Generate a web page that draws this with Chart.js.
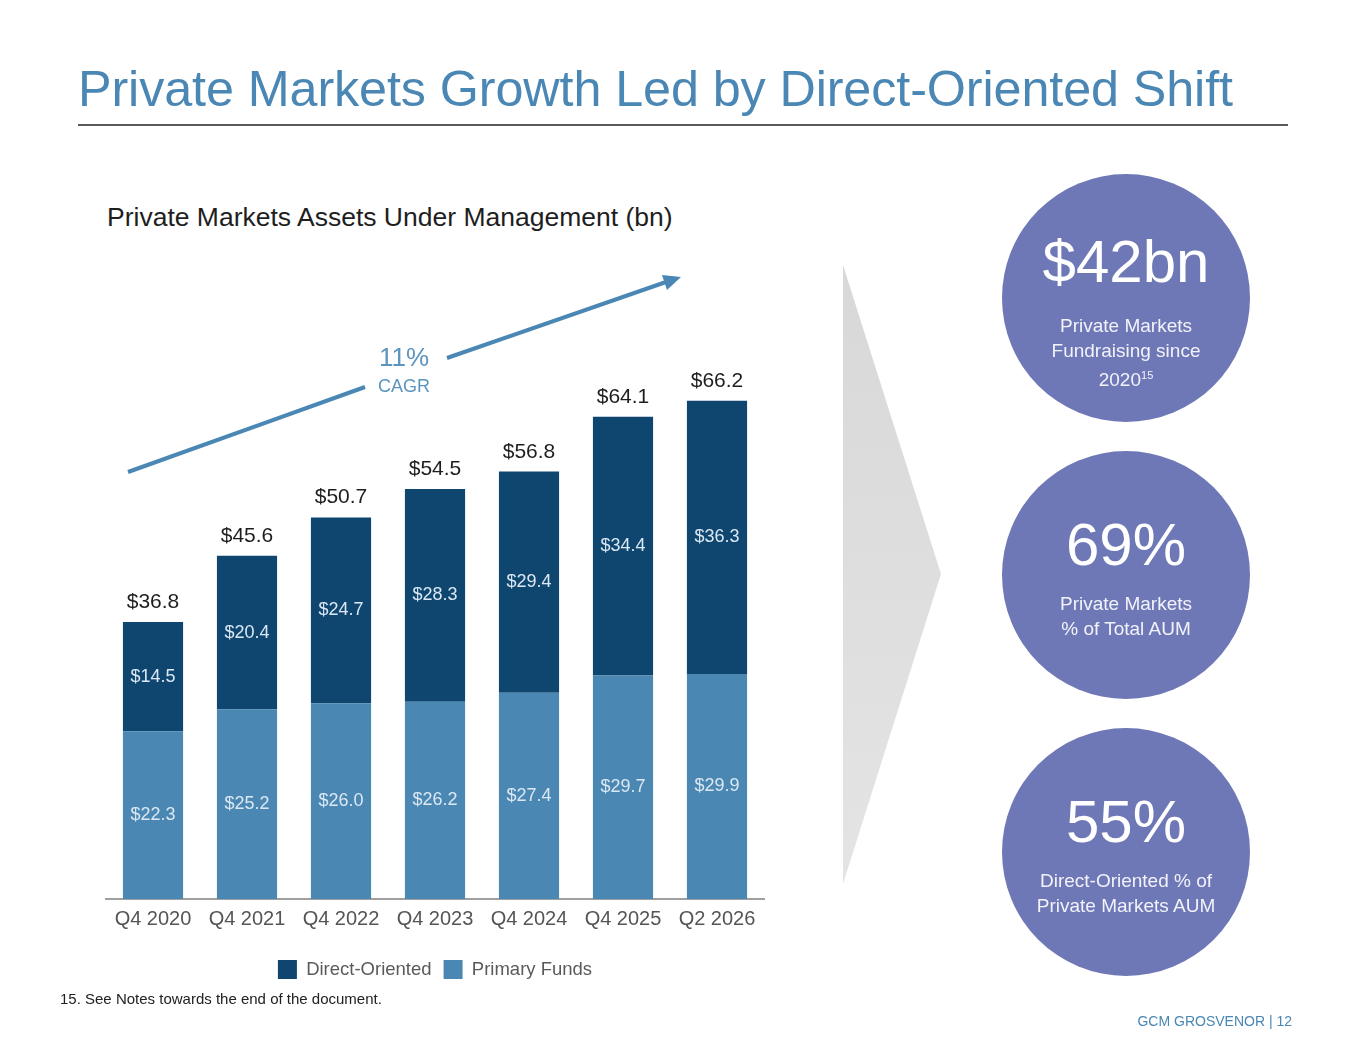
<!DOCTYPE html>
<html>
<head>
<meta charset="utf-8">
<script src="https://cdn.jsdelivr.net/npm/chart.js@4"></script>
<style>
  html, body { margin: 0; padding: 0; background: #fff; }
  body { width: 1365px; height: 1055px; position: relative; overflow: hidden;
         font-family: "Liberation Sans", Arial, Helvetica, sans-serif; }
  .abs { position: absolute; }
  #title { left: 78px; top: 59px; font-size: 50.3px; color: #4a87b4; white-space: nowrap; letter-spacing: -0.1px; }
  #rule { left: 78px; top: 124px; width: 1210px; height: 2px; background: #5a5a5a; }
  #subtitle { left: 107px; top: 202px; font-size: 26.5px; color: #1e1e1e; white-space: nowrap; }
  #chartBox { left: 100px; top: 280px; width: 680px; height: 720px; }
  #note { left: 60px; top: 990px; font-size: 15px; color: #222; white-space: nowrap; }
  #footer { right: 73px; top: 1013px; font-size: 14px; color: #4a87b4; white-space: nowrap; }
  .circle { width: 248px; height: 248px; border-radius: 50%; background: #6f78b6; left: 1002px; color: #fff; text-align: center; }
  .big { position: absolute; left: 0; right: 0; font-size: 60px; line-height: 60px; }
  .small { position: absolute; left: 0; right: 0; font-size: 19px; line-height: 25px; color: #f2f2fa; }
  sup { font-size: 11px; vertical-align: 7px; }
</style>
</head>
<body>
<div id="title" class="abs">Private Markets Growth Led by Direct-Oriented Shift</div>
<div id="rule" class="abs"></div>
<div id="subtitle" class="abs">Private Markets Assets Under Management (bn)</div>

<svg class="abs" style="left:0;top:0" width="1365" height="1055">
  <defs>
    <linearGradient id="chev" x1="0" y1="0" x2="0" y2="1">
      <stop offset="0" stop-color="#d8d8d8"/>
      <stop offset="1" stop-color="#e4e4e4"/>
    </linearGradient>
  </defs>
  <polygon points="843,265 941,574 843,884" fill="url(#chev)"/>
</svg>

<div id="chartBox" class="abs"><canvas id="aumChart"></canvas></div>

<svg class="abs" style="left:0;top:0;pointer-events:none" width="1365" height="1055">
  <line x1="128" y1="472" x2="365" y2="387" stroke="#4a87b4" stroke-width="4"/>
  <line x1="447" y1="358" x2="666" y2="282" stroke="#4a87b4" stroke-width="4"/>
  <polygon points="681,277 667,290 662,275" fill="#4a87b4"/>
  <text x="404" y="366" text-anchor="middle" font-size="26" fill="#5b95bf" font-family="Liberation Sans, Arial">11%</text>
  <text x="404" y="392" text-anchor="middle" font-size="18" fill="#5b95bf" font-family="Liberation Sans, Arial">CAGR</text>
</svg>

<div class="abs circle" style="top:174px">
  <div class="big" style="top:58px">$42bn</div>
  <div class="small" style="top:139px">Private Markets<br>Fundraising since<br>2020<sup>15</sup></div>
</div>
<div class="abs circle" style="top:451px">
  <div class="big" style="top:64px">69%</div>
  <div class="small" style="top:140px">Private Markets<br>% of Total AUM</div>
</div>
<div class="abs circle" style="top:728px">
  <div class="big" style="top:64px">55%</div>
  <div class="small" style="top:140px">Direct-Oriented % of<br>Private Markets AUM</div>
</div>

<div id="note" class="abs">15. See Notes towards the end of the document.</div>
<div id="footer" class="abs">GCM GROSVENOR | 12</div>

<script>
// Catégories et valeurs (en milliards $)
const periods = ['Q4 2020', 'Q4 2021', 'Q4 2022', 'Q4 2023', 'Q4 2024', 'Q4 2025', 'Q2 2026'];
const primaryFunds = [22.3, 25.2, 26.0, 26.2, 27.4, 29.7, 29.9];
const directOriented = [14.5, 20.4, 24.7, 28.3, 29.4, 34.4, 36.3];

const darkBlue = '#0e4670';
const midBlue = '#4a87b3';

// Étiquettes dans les barres + totaux au-dessus
const barLabels = {
    id: 'barLabels',
    afterDatasetsDraw(chart) {
        const ctx = chart.ctx;
        ctx.save();
        ctx.textAlign = 'center';
        ctx.textBaseline = 'middle';
        ctx.font = '18px "Liberation Sans", Arial, sans-serif';
        ctx.fillStyle = '#dbe8f3';
        chart.data.datasets.forEach((ds, i) => {
            chart.getDatasetMeta(i).data.forEach((bar, j) => {
                const yMid = (bar.y + bar.base) / 2;
                ctx.fillText('$' + ds.data[j].toFixed(1), bar.x, yMid);
            });
        });
        // totaux
        const top = chart.getDatasetMeta(1).data;
        ctx.font = '21px "Liberation Sans", Arial, sans-serif';
        ctx.fillStyle = '#1e1e1e';
        ctx.textBaseline = 'alphabetic';
        top.forEach((bar, j) => {
            const total = primaryFunds[j] + directOriented[j];
            ctx.fillText('$' + total.toFixed(1), bar.x, bar.y - 14);
        });
        ctx.restore();
    }
};

const ctx = document.getElementById('aumChart').getContext('2d');
new Chart(ctx, {
    type: 'bar',
    data: {
        labels: periods,
        datasets: [
            { label: 'Primary Funds', data: primaryFunds, backgroundColor: midBlue },
            { label: 'Direct-Oriented', data: directOriented, backgroundColor: darkBlue }
        ]
    },
    options: {
        responsive: true,
        maintainAspectRatio: false,
        animation: false,
        layout: { padding: { left: 6, right: 16, top: 17, bottom: 11 } },
        datasets: { bar: { categoryPercentage: 1, barPercentage: 0.64 } },
        plugins: {
            tooltip: { enabled: false },
            legend: {
                position: 'bottom',
                reverse: true,
                labels: {
                    boxWidth: 19, boxHeight: 19, padding: 12,
                    color: '#5a5a5a',
                    font: { family: '"Liberation Sans", Arial, sans-serif', size: 18.5 }
                }
            }
        },
        scales: {
            x: {
                stacked: true,
                grid: { display: false },
                border: { display: true, color: '#a0a0a0', width: 2 },
                ticks: { padding: 0, color: '#555', font: { family: '"Liberation Sans", Arial, sans-serif', size: 20 } },
                afterFit(scale) { scale.height = 49; }
            },
            y: {
                stacked: true,
                display: false,
                min: 0,
                max: 80
            }
        }
    },
    plugins: [barLabels]
});
</script>
</body>
</html>
